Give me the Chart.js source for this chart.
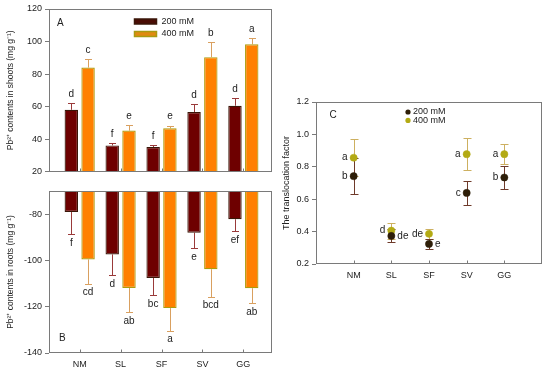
<!DOCTYPE html>
<html><head><meta charset="utf-8">
<script src="https://cdn.jsdelivr.net/npm/chart.js@4.4.1/dist/chart.umd.min.js"></script>
<style>
html,body{margin:0;padding:0;background:#fff;width:550px;height:374px;overflow:hidden}
canvas{position:absolute;display:block}
</style></head><body>
<canvas id="cA" width="280" height="180" style="left:0;top:0"></canvas>
<canvas id="cB" width="280" height="194" style="left:0;top:180px"></canvas>
<canvas id="cC" width="270" height="200" style="left:280px;top:90px"></canvas>
<script>
// ---------- data ----------
const categories = ['NM', 'SL', 'SF', 'SV', 'GG'];
const seriesNames = ['200 mM', '400 mM'];

const shoot200 = [58.0, 36.1, 35.1, 56.6, 60.5];
const shoot200Err = [4.1, 1.5, 1.3, 5.1, 4.9];
const shoot400 = [84.0, 45.2, 46.6, 90.4, 98.3];
const shoot400Err = [5.1, 3.4, 1.6, 9.2, 3.7];
const shootLetters200 = ['d', 'f', 'f', 'd', 'd'];
const shootLetters400 = ['c', 'e', 'e', 'b', 'a'];

const root200 = [-79.1, -97.4, -107.6, -88.0, -82.2];
const root200Err = [9.6, 9.1, 7.5, 6.8, 5.1];
const root400 = [-99.6, -111.9, -120.6, -103.8, -112.0];
const root400Err = [10.4, 10.4, 9.7, 11.8, 6.6];
const rootLetters200 = ['f', 'd', 'bc', 'e', 'ef'];
const rootLetters400 = ['cd', 'ab', 'a', 'bcd', 'ab'];

const tf200 = [0.742, 0.373, 0.324, 0.639, 0.734];
const tf200Err = [0.11, 0.04, 0.033, 0.072, 0.07];
const tf400 = [0.856, 0.406, 0.386, 0.878, 0.878];
const tf400Err = [0.115, 0.05, 0.03, 0.098, 0.06];
const tfLetters200 = ['b', 'de', 'e', 'c', 'b'];
const tfLetters400 = ['a', 'd', 'de', 'a', 'a'];
const tfSide200 = ['L', 'R', 'R', 'L', 'L'];
const tfSide400 = ['L', 'L', 'L', 'L', 'L'];

const shootAxis = {min: 20, max: 120, step: 20};
const rootAxis = {min: -140, max: -70, step: 20};
const tfAxis = {min: 0.2, max: 1.2, step: 0.2};

// ---------- style ----------
const FONT = "'Liberation Sans', Arial, sans-serif";
const TXT = '#222';
const FRAME = '#7a7a7a';
const c200 = {fill: '#6e0000', edge: '#3a1608', err: '#9a3a3a', pt: '#2e1e08', ptErr: '#6e3a2a'};
const c400 = {fill: '#ff8000', edge: '#ad9c0c', err: '#d9a060', pt: '#b3aa14', ptErr: '#cdb060'};

const decor = {
  id: 'decor',
  beforeDatasetsDraw(chart, args, o) {
    const ctx = chart.ctx, ys = chart.scales.y;
    ctx.save();
    (o.errors || []).forEach(e => {
      const meta = chart.getDatasetMeta(e.ds);
      meta.data.forEach((el, i) => {
        const v = e.values[i], er = e.err[i];
        const cx = Math.round(el.x) + 0.5;
        ctx.strokeStyle = e.color; ctx.lineWidth = 1;
        const dirs = e.dir === 0 ? [1, -1] : [e.dir];
        dirs.forEach(d => {
          const y0 = ys.getPixelForValue(v), y1 = Math.round(ys.getPixelForValue(v + d * er)) + 0.5;
          ctx.beginPath(); ctx.moveTo(cx, y0); ctx.lineTo(cx, y1);
          ctx.moveTo(cx - e.cap, y1); ctx.lineTo(cx + e.cap, y1); ctx.stroke();
        });
      });
    });
    ctx.restore();
  },
  afterDatasetsDraw(chart, args, o) {
    const ctx = chart.ctx, a = chart.chartArea, xs = chart.scales.x, ys = chart.scales.y;
    ctx.save();
    const L = Math.round(a.left) + 0.5, T = Math.round(a.top) + 0.5, R = Math.round(a.right) - 0.5, B = Math.round(a.bottom) - 0.5;
    ctx.strokeStyle = FRAME; ctx.lineWidth = 1;
    ctx.strokeRect(L, T, R - L, B - T);
    ctx.beginPath();
    categories.forEach((c, i) => {
      const x = Math.round(xs.getPixelForValue(i + 1)) + 0.5;
      ctx.moveTo(x, B); ctx.lineTo(x, B - 3);
    });
    ctx.stroke();
    ctx.fillStyle = TXT;
    ctx.font = '10px ' + FONT;
    ctx.textBaseline = 'middle';
    (o.letters || []).forEach(Lt => {
      const meta = chart.getDatasetMeta(Lt.ds);
      meta.data.forEach((el, i) => {
        if (Lt.side) {
          const s = Lt.side[i];
          ctx.textAlign = s === 'L' ? 'right' : 'left';
          ctx.fillText(Lt.text[i], el.x + (s === 'L' ? -6 : 6), el.y);
        } else {
          ctx.textAlign = 'center';
          const y = ys.getPixelForValue(Lt.values[i] + Lt.dir * Lt.err[i]) - Lt.dir * 9;
          ctx.fillText(Lt.text[i], el.x, y);
        }
      });
    });
    if (o.panel) {
      ctx.textAlign = 'left';
      ctx.font = '10px ' + FONT;
      const py = o.panel.fromBottom ? a.bottom - o.panel.dy : a.top + o.panel.dy;
      ctx.fillText(o.panel.text, a.left + o.panel.dx, py);
    }
    if (o.legend) {
      const lg = o.legend;
      ctx.font = '9px ' + FONT;
      ctx.textAlign = 'left';
      lg.items.forEach((it, k) => {
        const y = a.top + lg.dy + k * lg.gap;
        const x = a.left + lg.dx;
        if (lg.kind === 'bar') {
          ctx.fillStyle = it.fill; ctx.fillRect(x, y - 2.5, 22, 5);
          ctx.strokeStyle = it.edge; ctx.lineWidth = 1.5; ctx.strokeRect(x, y - 2.5, 22, 5);
          ctx.fillStyle = TXT; ctx.fillText(it.label, x + 27, y);
        } else {
          ctx.fillStyle = it.fill; ctx.beginPath(); ctx.arc(x, y, 2.6, 0, Math.PI * 2); ctx.fill();
          ctx.fillStyle = TXT; ctx.fillText(it.label, x + 5, y);
        }
      });
    }
    ctx.restore();
  }
};

const catTicks = s => { s.ticks = categories.map((c, i) => ({value: i + 1})); };

function yAxis(ax, title, width, titleSize, titlePad, fmt) {
  return {
    min: ax.min, max: ax.max,
    ticks: {stepSize: ax.step, includeBounds: false, font: {family: FONT, size: 9}, color: TXT, padding: 3,
      callback: fmt || (v => v)},
    grid: {drawOnChartArea: false, drawTicks: true, tickLength: 4, color: FRAME},
    border: {display: false},
    title: {display: true, text: title, color: TXT, font: {family: FONT, size: titleSize}, padding: {top: titlePad, bottom: 0}},
    afterFit: s => { s.width = width; }
  };
}

function barChart(id, d200, d400, e200, e400, l200, l400, ax, title, dir, xH, showX, pad, panel, legend) {
  return new Chart(document.getElementById(id), {
    type: 'bar',
    data: {
      datasets: [
        {label: seriesNames[0], data: d200.map((v, i) => ({x: i + 1, y: v})), backgroundColor: c200.fill, borderColor: c200.edge, borderWidth: 1.2, categoryPercentage: 0.82, barPercentage: 0.8},
        {label: seriesNames[1], data: d400.map((v, i) => ({x: i + 1, y: v})), backgroundColor: c400.fill, borderColor: c400.edge, borderWidth: 1.2, categoryPercentage: 0.82, barPercentage: 0.8}
      ]
    },
    options: {
      responsive: false, animation: false, devicePixelRatio: 1,
      layout: {padding: pad},
      scales: {
        x: {type: 'linear', offset: false, min: 0.25, max: 5.7, afterBuildTicks: catTicks,
          ticks: {display: showX, font: {family: FONT, size: 9}, color: TXT, padding: 6, callback: (v, i) => categories[i]},
          grid: {display: false, drawTicks: false}, border: {display: false}, afterFit: s => { s.height = xH; }},
        y: yAxis(ax, title, 49, 8.5, 6)
      },
      plugins: {
        legend: {display: false}, tooltip: {enabled: false},
        decor: {
          errors: [
            {ds: 0, values: d200, err: e200, dir: dir, color: c200.err, cap: 3.5},
            {ds: 1, values: d400, err: e400, dir: dir, color: c400.err, cap: 3.5}
          ],
          letters: [
            {ds: 0, values: d200, err: e200, dir: dir, text: l200},
            {ds: 1, values: d400, err: e400, dir: dir, text: l400}
          ],
          panel: panel,
          legend: legend
        }
      }
    },
    plugins: [decor]
  });
}

barChart('cA', shoot200, shoot400, shoot200Err, shoot400Err, shootLetters200, shootLetters400, shootAxis,
  'Pb²⁺ contents in shoots (mg g⁻¹)', 1, 8, false, {top: 9, right: 8, left: 0, bottom: 0},
  {text: 'A', dx: 8, dy: 14},
  {kind: 'bar', dx: 85.5, dy: 12.5, gap: 12.5, items: [
    {label: seriesNames[0], fill: '#4a0c04', edge: '#3a1608'},
    {label: seriesNames[1], fill: '#e08a10', edge: '#a89a10'}]});

barChart('cB', root200, root400, root200Err, root400Err, rootLetters200, rootLetters400, rootAxis,
  'Pb²⁺ contents in roots (mg g⁻¹)', -1, 21, true, {top: 11, right: 8, left: 0, bottom: 0},
  {text: 'B', dx: 10, dy: 15, fromBottom: true}, null);

new Chart(document.getElementById('cC'), {
  type: 'line',
  data: {
    datasets: [
      {label: seriesNames[0], data: tf200.map((v, i) => ({x: i + 1, y: v})), showLine: false, pointRadius: 3.6, pointBackgroundColor: c200.pt, pointBorderColor: c200.pt, pointBorderWidth: 0.5},
      {label: seriesNames[1], data: tf400.map((v, i) => ({x: i + 1, y: v})), showLine: false, pointRadius: 3.6, pointBackgroundColor: c400.pt, pointBorderColor: c400.pt, pointBorderWidth: 0.5}
    ]
  },
  options: {
    responsive: false, animation: false, devicePixelRatio: 1,
    layout: {padding: {top: 12, right: 8, left: 0, bottom: 0}},
    scales: {
      x: {type: 'linear', offset: false, min: 0, max: 6, afterBuildTicks: catTicks,
        ticks: {font: {family: FONT, size: 9}, color: TXT, padding: 6, callback: (v, i) => categories[i]},
        grid: {display: false, drawTicks: false}, border: {display: false}, afterFit: s => { s.height = 26; }},
      y: yAxis(tfAxis, 'The translocation factor', 36, 9, 1, v => v.toFixed(1))
    },
    plugins: {
      legend: {display: false}, tooltip: {enabled: false},
      decor: {
        errors: [
          {ds: 1, values: tf400, err: tf400Err, dir: 0, color: c400.ptErr, cap: 4},
          {ds: 0, values: tf200, err: tf200Err, dir: 0, color: c200.ptErr, cap: 4}
        ],
        letters: [
          {ds: 0, text: tfLetters200, side: tfSide200},
          {ds: 1, text: tfLetters400, side: tfSide400}
        ],
        panel: {text: 'C', dx: 13.5, dy: 13},
        legend: {kind: 'dot', dx: 92, dy: 10, gap: 8.4, items: [
          {label: seriesNames[0], fill: c200.pt},
          {label: seriesNames[1], fill: c400.pt}]}
      }
    }
  },
  plugins: [decor]
});
</script>
</body></html>
